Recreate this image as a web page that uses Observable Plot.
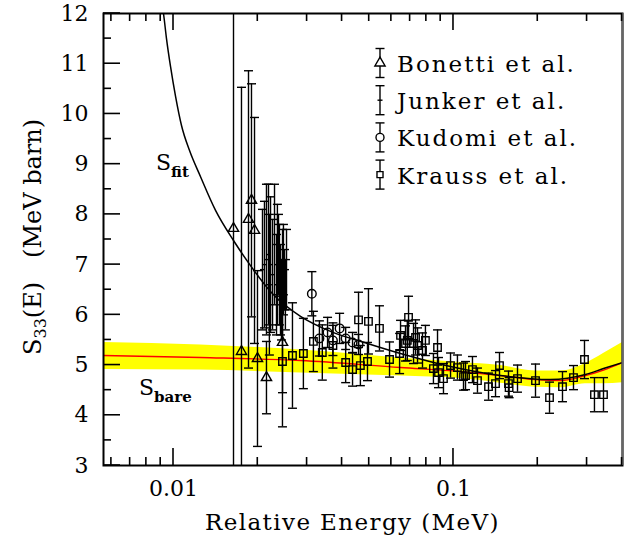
<!DOCTYPE html>
<html><head><meta charset="utf-8">
<script src="https://cdn.jsdelivr.net/npm/d3@7"></script>
<script src="https://cdn.jsdelivr.net/npm/@observablehq/plot@0.6"></script>
<style>body{margin:0;background:#fff} svg{display:block}</style>
</head><body><div id="chart"></div>
<script>
// ---- scales / ticks ----
const xDomain = [0.005623, 0.4015];
const yDomain = [3, 12];
const xMajorTicks = [0.01, 0.1];
const xTickLabels = ["0.01", "0.1"];
const xMinorTicks = [0.006,0.007,0.008,0.009,0.02,0.03,0.04,0.05,0.06,0.07,0.08,0.09,0.2,0.3,0.4];
const yMajorTicks = [3,4,5,6,7,8,9,10,11,12];
const yTickLabels = ["3","4","5","6","7","8","9","10","11","12"];
const yMinorTicks = [3.5,4.5,5.5,6.5,7.5,8.5,9.5,10.5,11.5];

// ---- data: [E (MeV), S (MeV b), error] ----
const bonetti = [
  [0.01638, 7.72, 6.0], [0.01749, 5.27, 5.26], [0.01853, 7.90, 2.96], [0.01899, 8.28, 2.32],
  [0.01947, 7.68, 2.25], [0.01995, 5.13, 1.75], [0.02148, 4.75, 0.72], [0.02451, 5.45, 1.0]
];
const junker = [
  [0.02079, 6.9, 1.2], [0.02113, 7.0, 1.26], [0.02148, 7.1, 1.5], [0.02184, 7.2, 1.4],
  [0.02200, 6.6, 1.4], [0.02221, 7.0, 1.35], [0.02258, 6.8, 1.1], [0.02295, 7.4, 1.2],
  [0.02333, 6.6, 1.0], [0.02350, 7.0, 1.2], [0.02371, 7.2, 0.8], [0.02390, 6.8, 1.0],
  [0.02411, 6.5, 0.9], [0.02430, 6.3, 0.8], [0.02451, 7.0, 0.7], [0.02470, 6.9, 0.9],
  [0.02492, 6.7, 0.6], [0.02510, 6.4, 0.7], [0.02533, 6.9, 0.8]
];
const kudomi = [
  [0.0312, 6.42, 0.44], [0.0332, 5.53, 0.35], [0.0355, 5.65, 0.3], [0.0371, 5.49, 0.3],
  [0.0392, 5.73, 0.3], [0.0412, 5.53, 0.22], [0.0436, 5.45, 0.2], [0.0458, 5.41, 0.2]
];
const krauss = [
  [0.0245, 5.07, 1.3], [0.0266, 5.19, 1.05], [0.0291, 5.23, 0.7], [0.0316, 5.47, 0.6],
  [0.0340, 5.25, 0.55], [0.0371, 5.39, 0.45], [0.0412, 5.05, 0.4], [0.0436, 4.91, 0.33],
  [0.0458, 5.90, 0.55], [0.0465, 4.99, 0.4], [0.0493, 5.07, 0.38], [0.0497, 5.87, 0.65],
  [0.0544, 5.73, 0.45], [0.0591, 5.11, 0.35], [0.0642, 5.23, 0.4], [0.0647, 5.59, 0.3],
  [0.0674, 5.43, 0.35], [0.0684, 5.49, 0.4], [0.0691, 5.95, 0.42], [0.0720, 5.43, 0.4],
  [0.0732, 5.55, 0.35], [0.0744, 5.39, 0.35], [0.0775, 5.29, 0.35], [0.0794, 5.49, 0.3],
  [0.0848, 4.93, 0.3], [0.0877, 5.35, 0.35], [0.0884, 4.85, 0.3], [0.0921, 4.73, 0.3],
  [0.0976, 4.99, 0.25], [0.1033, 4.95, 0.25], [0.1086, 4.77, 0.27], [0.1104, 4.79, 0.28],
  [0.1169, 4.91, 0.26], [0.1218, 4.69, 0.25], [0.1334, 4.57, 0.27], [0.1413, 4.63, 0.26],
  [0.1460, 4.99, 0.26], [0.1572, 4.63, 0.25], [0.1580, 4.55, 0.2], [0.1693, 4.73, 0.27],
  [0.1963, 4.69, 0.33], [0.2203, 4.35, 0.31], [0.2451, 4.57, 0.3], [0.2683, 4.75, 0.24],
  [0.2937, 5.11, 0.38], [0.3188, 4.41, 0.34], [0.3434, 4.41, 0.34]
];

// fit curve (S_fit)
const fitE = [0.00895, 0.00921, 0.00944, 0.00976, 0.01017, 0.01068, 0.01141, 0.01249, 0.01413, 0.01638,
              0.01884, 0.02258, 0.02842, 0.03637, 0.04929, 0.06468, 0.09757, 0.1472, 0.222, 0.296, 0.3434, 0.4015];
const fitS = [12.4, 12.0, 11.50, 10.94, 10.35, 9.77, 9.27, 8.75, 8.08, 7.48,
              6.98, 6.42, 5.97, 5.67, 5.43, 5.23, 4.97, 4.79, 4.71, 4.81, 4.93, 5.05];
// bare S-factor (red) and its uncertainty band (yellow)
const bareE  = [0.005623, 0.01249, 0.02842, 0.06468, 0.1059, 0.1472, 0.1963, 0.241, 0.296, 0.3434, 0.4015];
const bareS  = [5.19, 5.15, 5.09, 4.95, 4.87, 4.79, 4.71, 4.69, 4.79, 4.90, 5.05];
const bandLo = [4.91, 4.90, 4.84, 4.78, 4.73, 4.64, 4.56, 4.55, 4.63, 4.63, 4.65];
const bandHi = [5.45, 5.40, 5.30, 5.14, 5.05, 4.99, 4.88, 4.88, 5.03, 5.23, 5.45];

const legendNames = ["Bonetti et al.", "Junker et al.", "Kudomi et al.", "Krauss et al."];

// ---- build tables ----
const rows = (arr, series) => arr.map(([E, S, err]) => ({E, S, lo: S - err, hi: S + err, series}));
const allPts = [...rows(bonetti, "B"), ...rows(junker, "J"), ...rows(kudomi, "K"), ...rows(krauss, "Kr")];
const fit = fitE.map((E, i) => ({E, S: fitS[i]}));
const bare = bareE.map((E, i) => ({E, S: bareS[i], lo: bandLo[i], hi: bandHi[i]}));

const FONT = "'DejaVu Serif', serif";
const capSym = {draw(ctx) { ctx.moveTo(-4.5, 0); ctx.lineTo(4.5, 0); }};
const midSym = {draw(ctx) { ctx.moveTo(-2.5, 0); ctx.lineTo(2.5, 0); }};
const SW = 1.4;

const chart = Plot.plot({
  width: 636, height: 542,
  marginLeft: 103, marginRight: 14, marginTop: 13, marginBottom: 77,
  x: {type: "log", domain: xDomain},
  y: {domain: yDomain},
  style: {fontFamily: FONT, background: "white", color: "black"},
  marks: [
    Plot.areaY(bare, {x: "E", y1: "lo", y2: "hi", fill: "#ffff00", curve: "monotone-x", clip: true}),
    Plot.line(bare, {x: "E", y: "S", stroke: "#ff0000", strokeWidth: 1.4, curve: "monotone-x", clip: true}),
    Plot.ruleX(allPts, {x: "E", y1: "lo", y2: "hi", stroke: "black", strokeWidth: SW, clip: true}),
    Plot.dot(allPts, {x: "E", y: "hi", symbol: capSym, stroke: "black", fill: "none", strokeWidth: SW, clip: true}),
    Plot.dot(allPts, {x: "E", y: "lo", symbol: capSym, stroke: "black", fill: "none", strokeWidth: SW, clip: true}),
    Plot.dot(rows(junker, "J"), {x: "E", y: "S", symbol: midSym, stroke: "black", fill: "none", strokeWidth: SW, clip: true}),
    Plot.dot(rows(bonetti, "B"), {x: "E", y: "S", symbol: "triangle", r: 3.8, stroke: "black", fill: "none", strokeWidth: SW, clip: true}),
    Plot.dot(rows(kudomi, "K"), {x: "E", y: "S", symbol: "circle", r: 4.3, stroke: "black", fill: "none", strokeWidth: SW, clip: true}),
    Plot.dot(rows(krauss, "Kr"), {x: "E", y: "S", symbol: "square", r: 4.2, stroke: "black", fill: "none", strokeWidth: SW, clip: true}),
    Plot.line(fit, {x: "E", y: "S", stroke: "black", strokeWidth: 1.5, curve: "monotone-x", clip: true}),
    Plot.frame({stroke: "black", strokeWidth: 2}),
    Plot.ruleX([xDomain[1]], {stroke: "#666", strokeWidth: 2}),
    Plot.axisX(xMajorTicks, {anchor: "bottom", tickSize: 0, tickPadding: 15, fontSize: 22, fontFamily: FONT,
      tickFormat: d => xTickLabels[xMajorTicks.indexOf(d)], label: null}),
    Plot.axisY(yMajorTicks, {anchor: "left", tickSize: 0, tickPadding: 15, fontSize: 22, fontFamily: FONT,
      tickFormat: d => yTickLabels[yMajorTicks.indexOf(d)], label: null})
  ]
});
document.getElementById("chart").appendChild(chart);

// ---- inward ticks drawn with Plot's own scales ----
const sx = chart.scale("x"), sy = chart.scale("y");
const X = v => sx.apply(v), Y = v => sy.apply(v);
const frameLeft = X(xDomain[0]), frameBottom = Y(yDomain[0]), frameTop = Y(yDomain[1]);
const svg = d3.select(chart);
const tk = svg.append("g").attr("stroke", "black").attr("stroke-width", 1.6);
[[xMajorTicks, 17], [xMinorTicks, 8]].forEach(([ticks, len]) => ticks.forEach(v => {
  tk.append("line").attr("x1", X(v)).attr("x2", X(v)).attr("y1", frameBottom).attr("y2", frameBottom - len);
  tk.append("line").attr("x1", X(v)).attr("x2", X(v)).attr("y1", frameTop).attr("y2", frameTop + len);
}));
[[yMajorTicks, 17], [yMinorTicks, 8]].forEach(([ticks, len]) => ticks.forEach(v => {
  tk.append("line").attr("x1", frameLeft).attr("x2", frameLeft + len).attr("y1", Y(v)).attr("y2", Y(v));
}));

// ---- titles, annotations, legend ----
const g = svg.append("g").attr("font-family", FONT).attr("fill", "black").attr("text-anchor", "start");

g.append("text").attr("x", 205).attr("y", 530).attr("font-size", 23).attr("letter-spacing", 1.4)
  .text("Relative Energy (MeV)");

const yl = g.append("text").attr("transform", "translate(41,355) rotate(-90)").attr("font-size", 24);
yl.append("tspan").text("S");
yl.append("tspan").attr("font-size", 16).attr("dy", 5).text("33");
yl.append("tspan").attr("dy", -5).text("(E)");
yl.append("tspan").attr("dx", 24).text("(MeV barn)");

const sf = g.append("text").attr("x", 156).attr("y", 170).attr("font-size", 22);
sf.append("tspan").text("S");
sf.append("tspan").attr("font-size", 15).attr("font-weight", "bold").attr("dy", 7).text("fit");
const sb = g.append("text").attr("x", 139).attr("y", 395).attr("font-size", 22);
sb.append("tspan").text("S");
sb.append("tspan").attr("font-size", 15).attr("font-weight", "bold").attr("dy", 7).text("bare");

const legendSymbols = [d3.symbolTriangle, null, d3.symbolCircle, d3.symbolSquare];
const legendR = [3.8, 0, 4.0, 3.4];
legendNames.forEach((name, i) => {
  const cy = 63 + i * 37.2, lx = 380;
  const lg = g.append("g").attr("stroke", "black").attr("stroke-width", SW).attr("fill", "none");
  lg.append("line").attr("x1", lx).attr("x2", lx).attr("y1", cy - 14.5).attr("y2", cy + 14.5);
  lg.append("line").attr("x1", lx - 4.5).attr("x2", lx + 4.5).attr("y1", cy - 14.5).attr("y2", cy - 14.5);
  lg.append("line").attr("x1", lx - 4.5).attr("x2", lx + 4.5).attr("y1", cy + 14.5).attr("y2", cy + 14.5);
  if (legendSymbols[i]) {
    lg.append("path").attr("transform", `translate(${lx},${cy})`)
      .attr("fill", "white")
      .attr("d", d3.symbol(legendSymbols[i], Math.PI * legendR[i] * legendR[i])());
  } else {
    lg.append("line").attr("x1", lx - 2.5).attr("x2", lx + 2.5).attr("y1", cy).attr("y2", cy);
  }
  g.append("text").attr("x", 397).attr("y", cy + 9).attr("font-size", 23).attr("letter-spacing", 2).text(name);
});
</script>
</body></html>
